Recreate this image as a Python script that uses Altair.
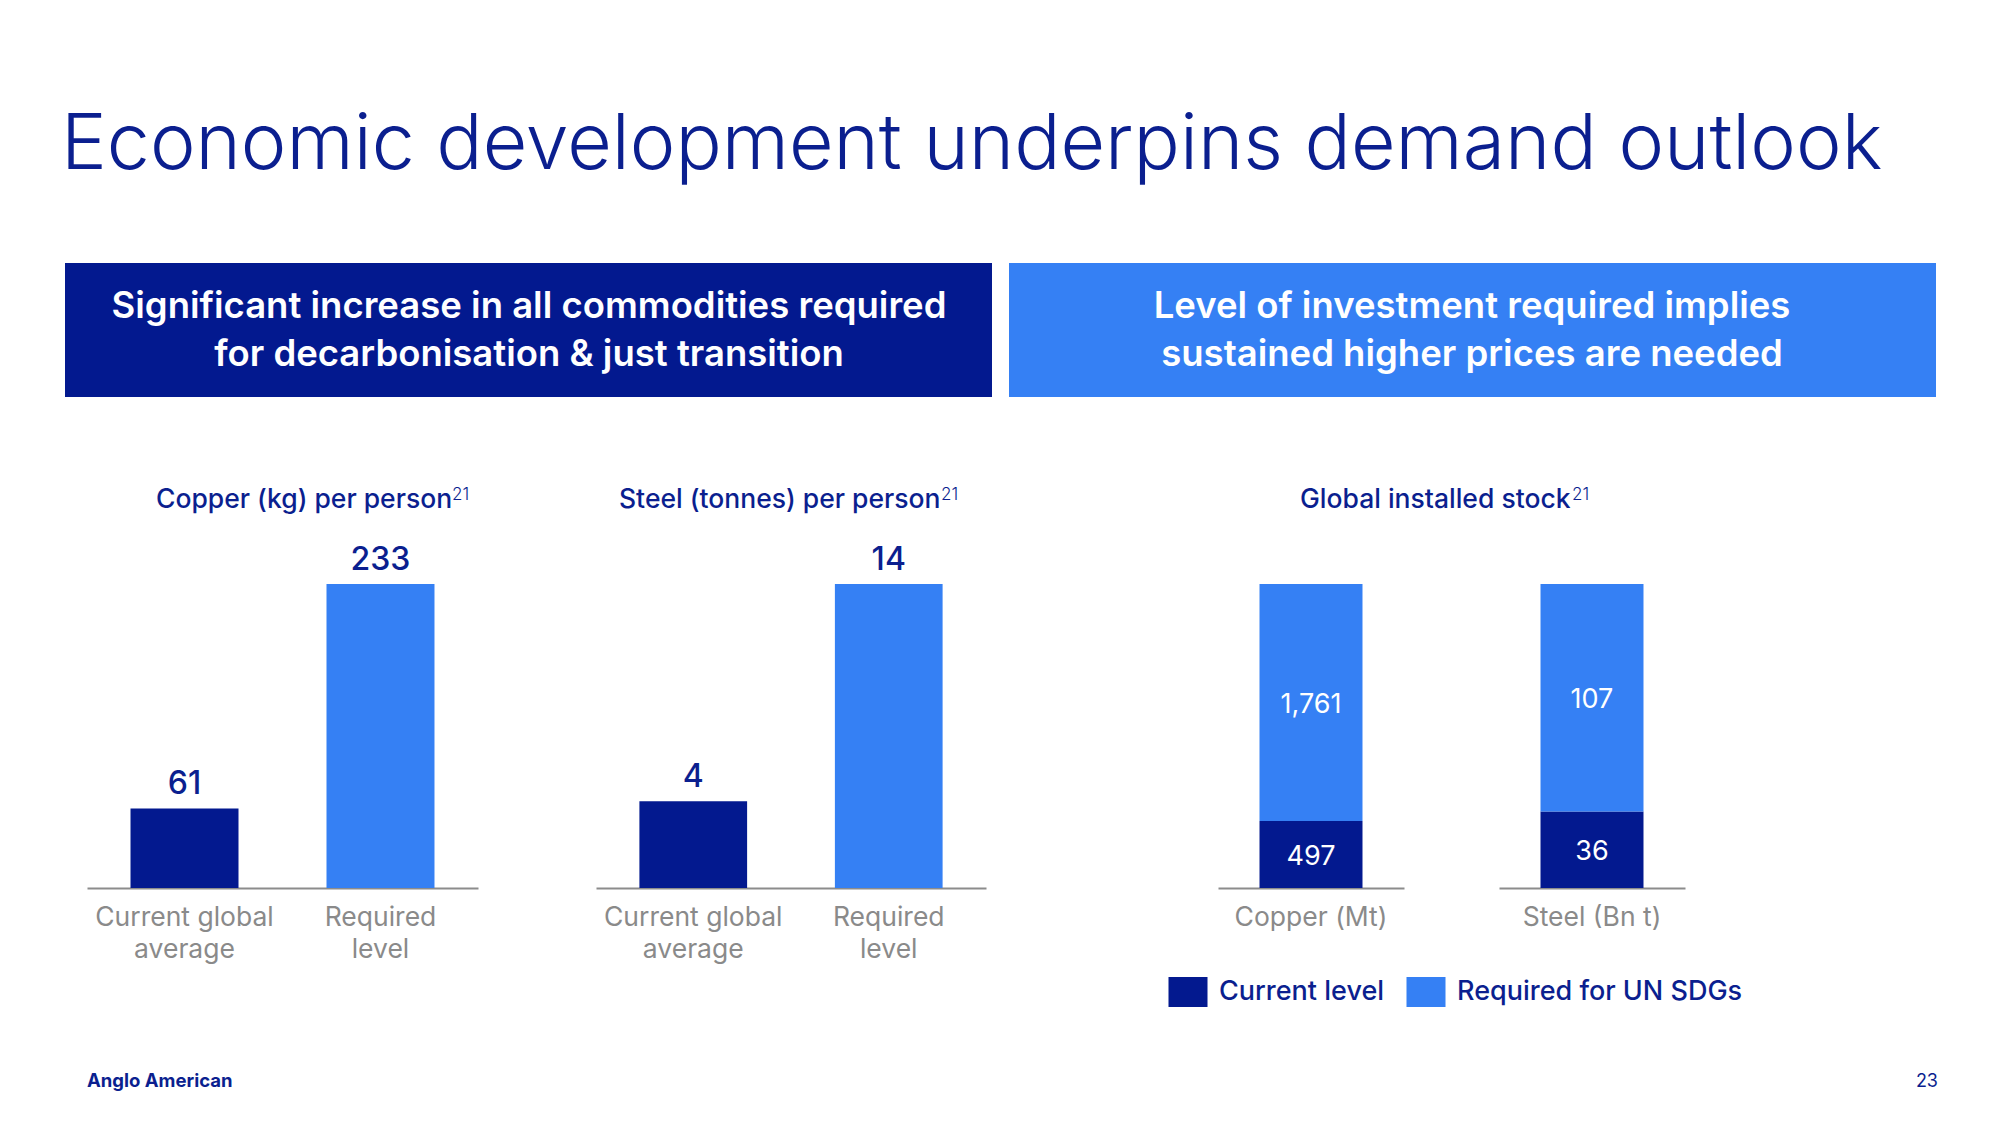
import altair as alt
import pandas as pd

# ---------------- data ----------------
title_text = "Economic development underpins demand outlook"
header_left = "Significant increase in all commodities required\nfor decarbonisation & just transition"
header_right = "Level of investment required implies\nsustained higher prices are needed"

series = ["Current level", "Required for UN SDGs"]

pp_categories = ["Current global|average", "Required|level"]
copper_pp_title = "Copper (kg) per person"
copper_pp_values = [61, 233]
steel_pp_title = "Steel (tonnes) per person"
steel_pp_values = [4, 14]

stock_title = "Global installed stock"
footnote_mark = "21"
stock_categories = ["Copper (Mt)", "Steel (Bn t)"]
stock_current = [497, 36]
stock_required = [1761, 107]

footer_left = "Anglo American"
page_number = "23"

# ---------------- style ----------------
DARK = "#03198f"
LIGHT = "#3580f4"
NAVY = "#0b1f8f"
GREY = "#8a8a8a"
AXIS_GREY = "#8c8c8c"
FONT = "Inter"

BASE_Y = 888
TOP_Y = 584
color_scale = alt.Scale(domain=series, range=[DARK, LIGHT])

LEGEND = alt.Legend(orient="none", legendX=1173, legendY=977,
                    direction="horizontal", title=None,
                    symbolType="M-1.3,-1H1.3V1H-1.3Z", symbolSize=900,
                    symbolStrokeWidth=0, symbolOpacity=1,
                    labelFont=FONT, labelFontSize=27, labelFontWeight=500,
                    labelColor=NAVY, labelOffset=16, columnPadding=21,
                    labelLimit=0)


def text_layer(txt, x, y, size, weight=400, color=NAVY, align="left",
               baseline="alphabetic", line_height=None):
    kw = dict(font=FONT, fontSize=size, fontWeight=weight, color=color,
              align=align, baseline=baseline, lineBreak="\n")
    if line_height:
        kw["lineHeight"] = line_height
    return (alt.Chart(pd.DataFrame({"t": [txt]}))
            .mark_text(**kw)
            .encode(x=alt.value(x), y=alt.value(y), text="t:N"))


def subtitle(txt, x_start, x_sup):
    return [text_layer(txt, x_start, 508, 26.5, weight=500),
            text_layer(footnote_mark, x_sup, 500, 17, weight=300)]


def x_axis():
    return alt.Axis(orient="bottom", offset=BASE_Y - 1125, title=None,
                    labelAngle=0, ticks=False, domainColor=AXIS_GREY,
                    domainWidth=2, labelExpr="split(datum.label, '|')",
                    labelFont=FONT, labelFontSize=26.5, labelColor=GREY,
                    labelPadding=16, labelLineHeight=32, labelBaseline="top")


def per_person(values, x_range):
    df = pd.DataFrame({"cat": pp_categories, "value": values, "series": series})
    x = alt.X("cat:N", sort=pp_categories,
              scale=alt.Scale(range=x_range, paddingInner=0.449, paddingOuter=0.222),
              axis=x_axis())
    y = alt.Y("value:Q", scale=alt.Scale(domain=[0, max(values)],
                                         range=[BASE_Y, TOP_Y], nice=False),
              axis=None)
    base = alt.Chart(df).encode(x=x, y=y)
    bars = base.mark_bar().encode(
        color=alt.Color("series:N", scale=color_scale, legend=LEGEND))
    labels = base.mark_text(font=FONT, fontSize=32, fontWeight=500, color=NAVY,
                            baseline="alphabetic", dy=-14).encode(text="value:Q")
    return alt.layer(bars, labels)


def stock(i, x_range):
    df = pd.DataFrame({
        "commodity": [stock_categories[i]] * 2,
        "series": series,
        "value": [stock_current[i], stock_required[i]],
        "order": [0, 1],
    })
    base = (alt.Chart(df)
            .transform_stack(stack="value", groupby=["commodity"], as_=["y0", "y1"],
                             offset="normalize", sort=[alt.SortField("order", "ascending")])
            .transform_calculate(mid="(datum.y0 + datum.y1) / 2"))
    x = alt.X("commodity:N",
              scale=alt.Scale(range=x_range, paddingInner=0, paddingOuter=0.403),
              axis=x_axis())
    ys = alt.Scale(domain=[0, 1], range=[BASE_Y, TOP_Y], nice=False)
    bars = base.mark_bar().encode(
        x=x, y=alt.Y("y0:Q", scale=ys, axis=None), y2="y1:Q",
        color=alt.Color("series:N", scale=color_scale, legend=LEGEND))
    labels = base.mark_text(font=FONT, fontSize=27, fontWeight=400, color="white",
                            baseline="middle", dy=2).encode(
        x=x, y=alt.Y("mid:Q", scale=ys, axis=None),
        text=alt.Text("value:Q", format=","))
    return alt.layer(bars, labels)


# ---------------- decorations ----------------
def box(x0, x1, color):
    return (alt.Chart(pd.DataFrame({"k": [0]})).mark_rect(color=color)
            .encode(x=alt.value(x0), x2=alt.value(x1),
                    y=alt.value(263), y2=alt.value(397)))


layers = [
    text_layer(title_text, 61, 169, 77, weight=300),
    box(65, 992, DARK), box(1009, 1936, LIGHT),
    text_layer(header_left, 529, 307, 36.5, weight=600, color="white",
               align="center", baseline="middle", line_height=48),
    text_layer(header_right, 1472, 307, 36.5, weight=600, color="white",
               align="center", baseline="middle", line_height=48),
    *subtitle(copper_pp_title, 156, 452),
    *subtitle(steel_pp_title, 619, 941),
    *subtitle(stock_title, 1300, 1572),
    per_person(copper_pp_values, [87, 478]),
    per_person(steel_pp_values, [596, 986]),
    stock(0, [1218, 1404]),
    stock(1, [1499, 1685]),
    text_layer(footer_left, 87, 1087, 18.5, weight=700),
    text_layer(page_number, 1938, 1087, 18, weight=400, align="right"),
]

chart = (alt.layer(*layers)
         .resolve_scale(x="independent", y="independent")
         .properties(width=2000, height=1125,
                     autosize=alt.AutoSizeParams(type="none"), padding=0,
                     background="white")
         .configure_view(stroke=None))

chart.save("out.html", embed_options={"renderer": "svg", "actions": False})
